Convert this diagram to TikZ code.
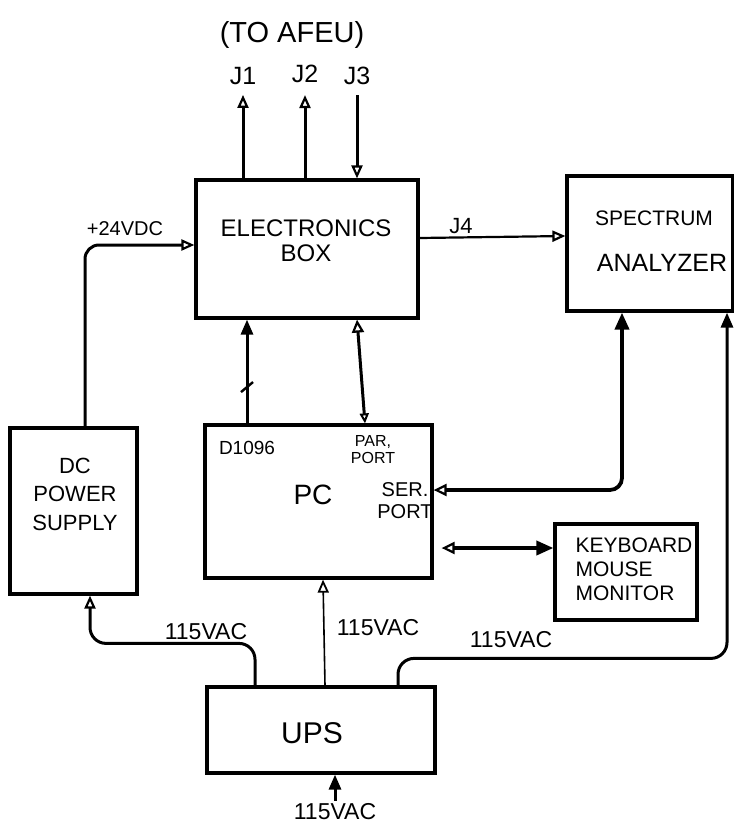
\documentclass[tikz,border=0pt]{standalone}
\usepackage{fontspec}
\setmainfont{Liberation Sans}
\usetikzlibrary{arrows.meta,calc}
\begin{document}
\begin{tikzpicture}[x=1pt,y=-1pt,
  box/.style={draw, line width=3.2pt, inner sep=0pt},
  lab/.style={inner sep=0pt, align=center},
  wire/.style={line width=3pt},
  oarr/.style={wire, -{Triangle[open, length=13pt, width=11pt, line width=2.2pt]}},
  farr/.style={wire, -{Triangle[length=15pt, width=12pt]}},
  fs/.style={font=\fontsize{#1}{#1}\selectfont}
]
\fill[white] (0,0) rectangle (734,836);
\useasboundingbox (0,0) rectangle (734,836);

% boxes
\node[box, minimum width=222pt, minimum height=138pt] (eb) at (307,249) {};
\node[box, minimum width=166pt, minimum height=135pt] (sa) at (650,243.5) {};
\node[box, minimum width=227pt, minimum height=153pt] (pc) at (318.5,501.5) {};
\node[box, minimum width=127pt, minimum height=166pt] (dc) at (73.5,511) {};
\node[box, minimum width=142pt, minimum height=96pt] (kb) at (626,572) {};
\node[box, minimum width=228pt, minimum height=86pt] (ups) at (321,730) {};

% texts
\node[lab, fs=29] (afeu) at (292,35) {(TO AFEU)};
\node[lab, fs=25] (j1) at (243,76) {J1};
\node[lab, fs=25] (j2) at (305,74) {J2};
\node[lab, fs=25] (j3) at (357,76) {J3};
\node[lab, font=\fontsize{24}{25}\selectfont] (ebt) at (306,241) {ELECTRONICS\\BOX};
\node[lab, fs=21] (sat1) at (654,218) {SPECTRUM};
\node[lab, fs=25] (sat2) at (662,263) {ANALYZER};
\node[lab, fs=22] (j4) at (461,226) {J4};
\node[lab, fs=20] (v24) at (125,229) {+24VDC};
\node[lab, fs=19] (dio) at (247,448) {D1096};
\node[lab, font=\fontsize{16}{17}\selectfont] (par) at (373,450) {PAR,\\PORT};
\node[lab, fs=28] (pct) at (313,495) {PC};
\node[lab, font=\fontsize{20}{22}\selectfont] (ser) at (405,501) {SER.\\PORT};
\node[lab, font=\fontsize{22}{28.5}\selectfont] (dct) at (75,494) {DC\\POWER\\SUPPLY};
\node[lab, font=\fontsize{21}{24}\selectfont, align=left] (kbt) at (634,569) {KEYBOARD\\MOUSE\\MONITOR};
\node[lab, fs=30] (upst) at (312,733) {UPS};
\node[lab, fs=23] (v1) at (206,632) {115VAC};
\node[lab, fs=23] (v2) at (378,628) {115VAC};
\node[lab, fs=23] (v3) at (511,640) {115VAC};
\node[lab, fs=23] (v4) at (335,812) {115VAC};

% top connectors
\draw[oarr, shorten >=10pt] (eb.north -| j1) -- (j1.south);
\draw[oarr, shorten >=12pt] (eb.north -| j2) -- (j2.south);
\draw[oarr, shorten <=10pt] (j3.south) -- (eb.north -| j3);

% J4
\draw[oarr, line width=2.2pt] ([yshift=11pt]eb.east) -- ([yshift=7.5pt]sa.west);

% +24VDC
\draw[oarr, rounded corners=14pt] ([xshift=11.5pt]dc.north) |- ([yshift=4pt]eb.west);

% PC to electronics box
\coordinate (pcA) at ([xshift=-71.5pt]pc.north);
\draw[farr] (pcA) -- coordinate[pos=0.35] (sl) (pcA |- eb.south);
\draw[wire, line width=2.4pt] ([shift={(-6pt,-5pt)}]sl) -- ([shift={(6pt,5pt)}]sl);

% PAR port
\draw[wire, {Triangle[open, length=10pt, width=9pt, line width=2pt]}-{Triangle[open, length=13pt, width=12pt, line width=2.2pt]}]
  ([xshift=46.5pt]pc.north) -- ([xshift=50pt]eb.south);

% SER port to spectrum analyzer
\coordinate (pcS) at ([yshift=11.5pt]pc.east);
\coordinate (saS) at ([xshift=-28pt]sa.south);
\draw[line width=3.8pt, rounded corners=12pt,
  {Triangle[open, length=13pt, width=12pt, line width=2.2pt]}-{Triangle[length=17pt, width=14pt]}]
  (pcS) -| (saS);

% PC to keyboard
\coordinate (pcK) at ([yshift=-46.5pt]pc.east);
\draw[line width=3.6pt,
  {Triangle[open, length=13pt, width=12pt, line width=2.2pt]}-{Triangle[length=17pt, width=14pt]}]
  ([xshift=8pt]pcK) -- (pcK -| kb.west);

% UPS outputs
\coordinate (u1) at ([xshift=-66pt]ups.north);
\draw[oarr, rounded corners=16pt] (u1) -- ++(0,-42) -| ([xshift=16.5pt]dc.south);
\draw[line width=1.6pt, -{Triangle[open, length=13pt, width=11pt, line width=1.8pt]}]
  ([xshift=4pt]ups.north) -- ([xshift=4.5pt]pc.south);
\coordinate (u3) at ([xshift=77pt]ups.north);
\draw[farr, rounded corners=16pt] (u3) -- ++(0,-27) -| ([xshift=77pt]sa.south);

% UPS input
\draw[farr] ([yshift=3pt]v4.north) -- (v4.north |- ups.south);
\end{tikzpicture}
\end{document}
